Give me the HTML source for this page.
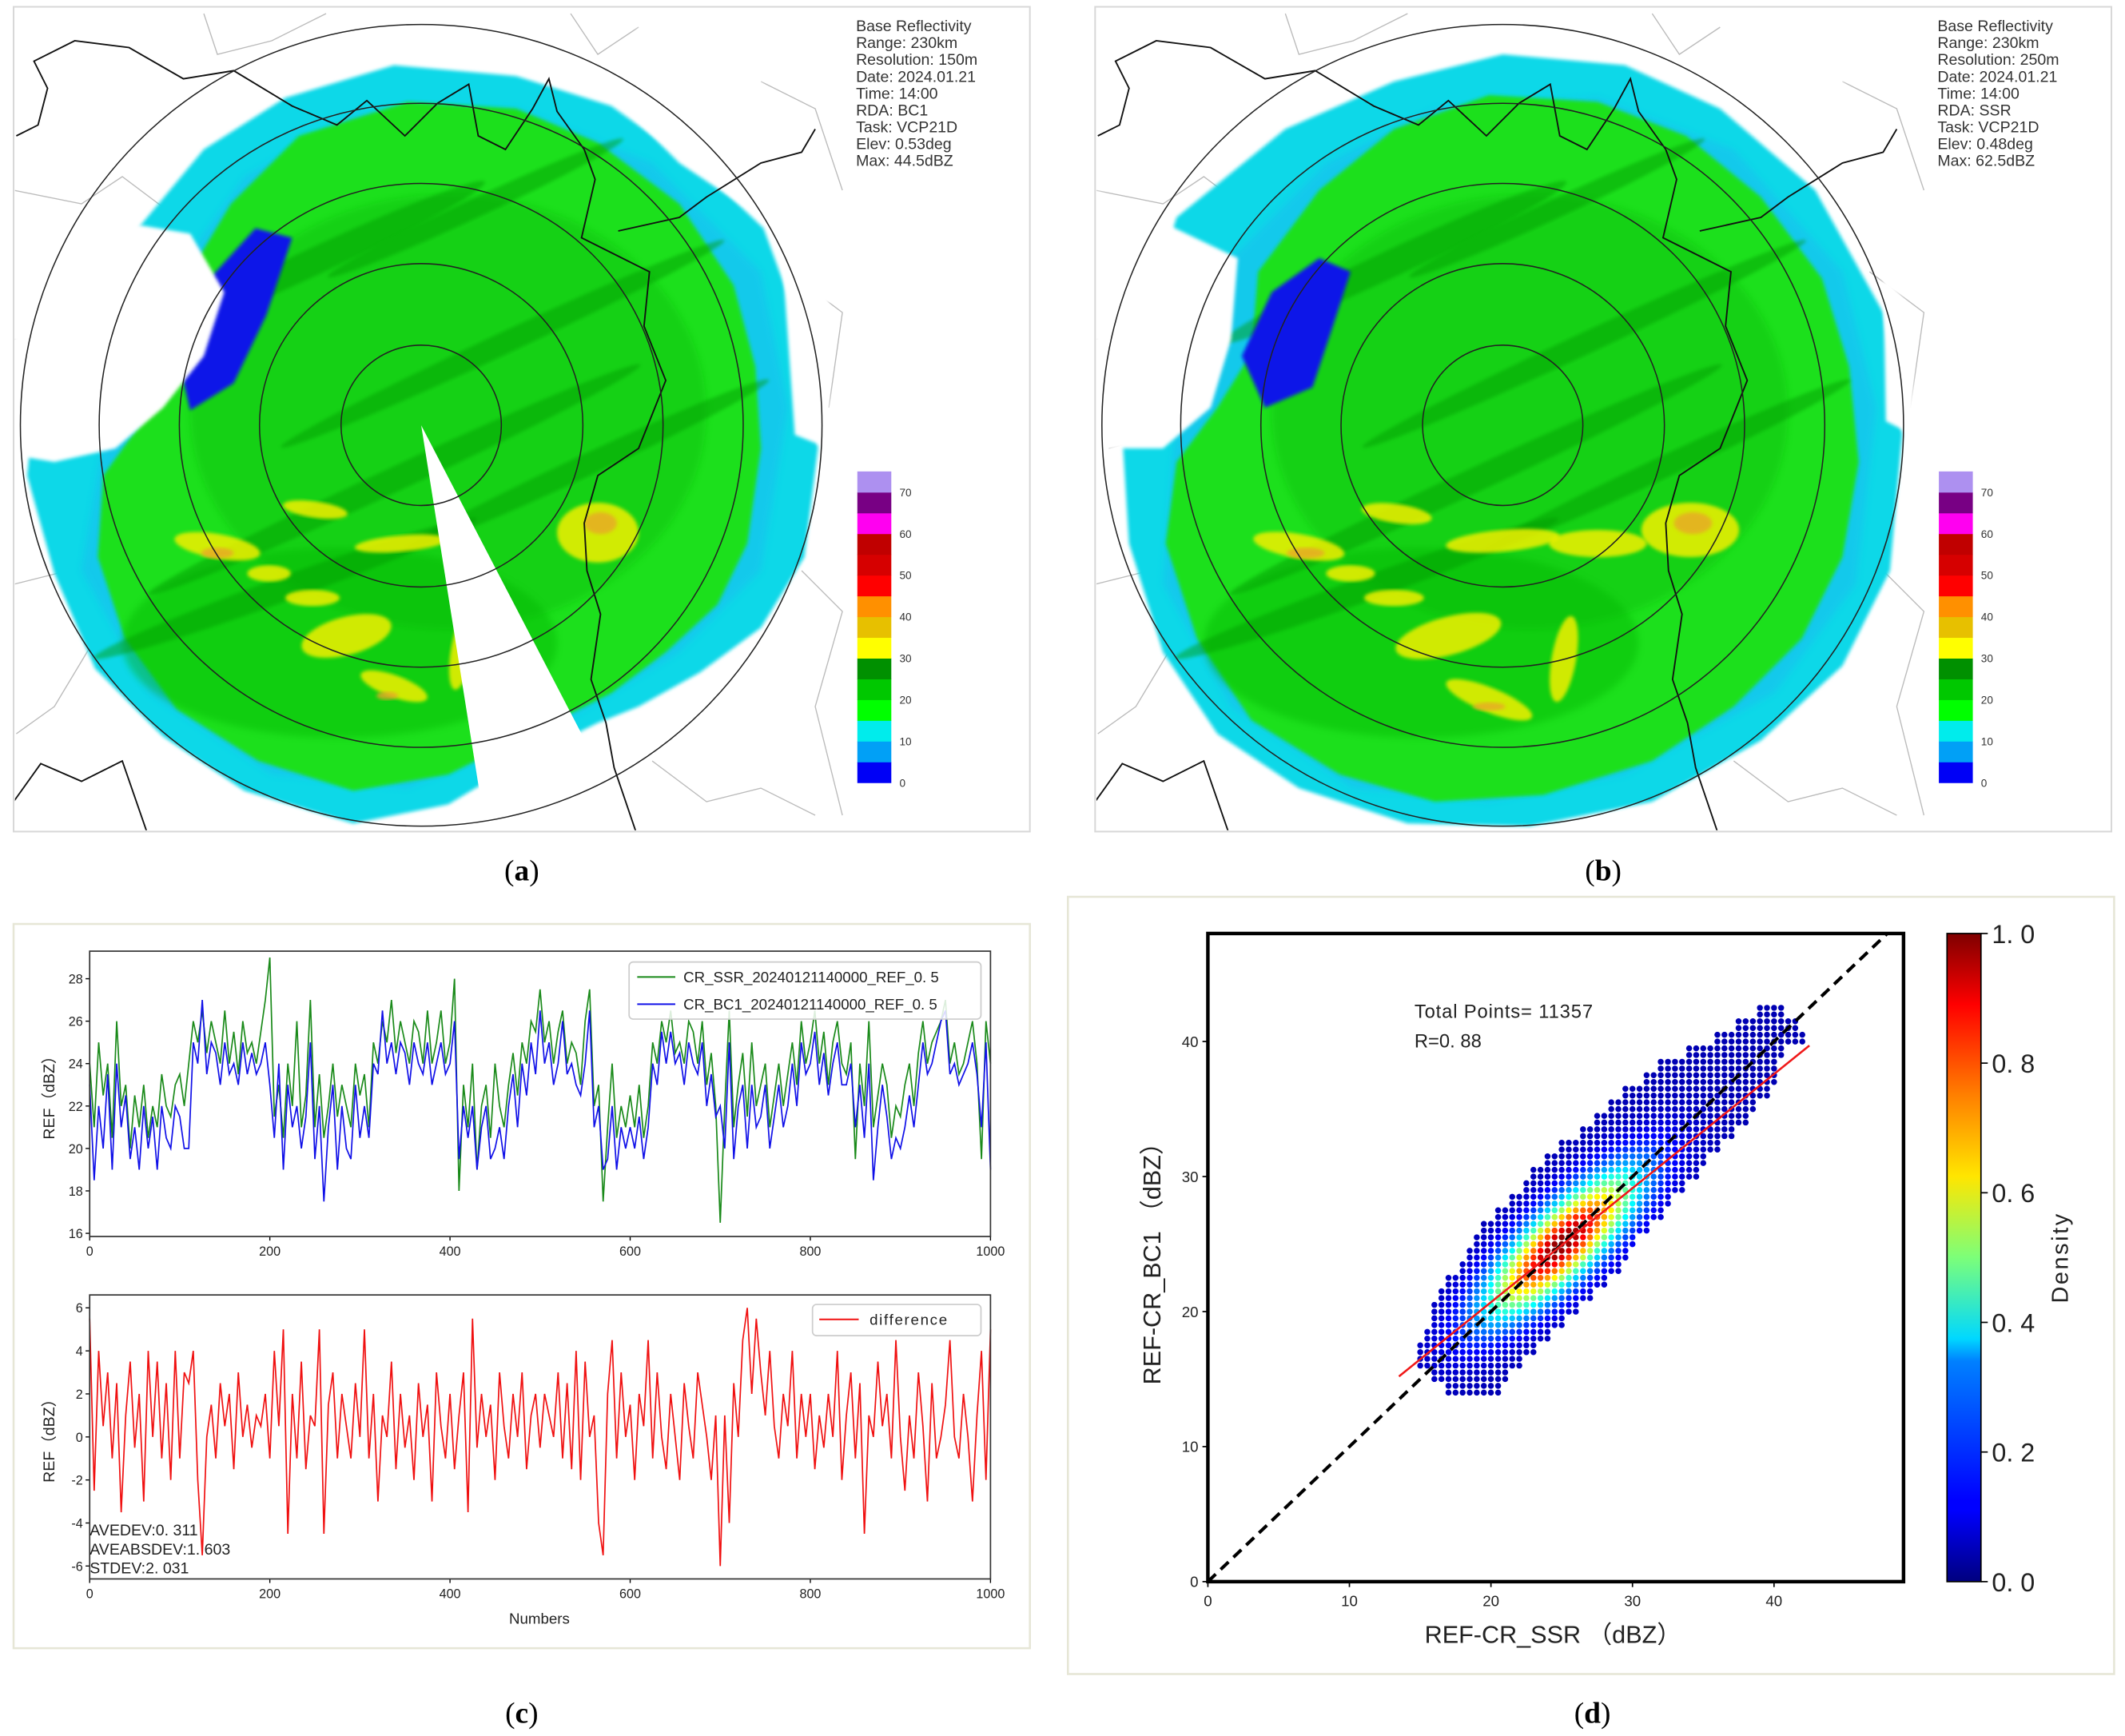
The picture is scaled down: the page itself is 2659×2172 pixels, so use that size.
<!DOCTYPE html>
<html><head><meta charset="utf-8">
<style>
html,body{margin:0;padding:0;background:#fff;}
svg{display:block;}
text{font-family:"Liberation Sans Narrow","Liberation Sans","Noto Sans CJK SC",sans-serif;}
.serif{font-family:"Liberation Serif",serif;}
</style></head>
<body>
<svg id="fig" width="2659" height="2172" viewBox="0 0 1564 1277.6" preserveAspectRatio="none" xmlns="http://www.w3.org/2000/svg">
<defs>
<filter id="soft" x="-10%" y="-10%" width="120%" height="120%"><feGaussianBlur stdDeviation="2.5"/></filter>
<filter id="soft2" x="-10%" y="-10%" width="120%" height="120%"><feGaussianBlur stdDeviation="1.2"/></filter>
<linearGradient id="jet" x1="0" y1="1" x2="0" y2="0">
<stop offset="0" stop-color="#00007f"/><stop offset="0.11" stop-color="#0000ff"/><stop offset="0.125" stop-color="#0000ff"/>
<stop offset="0.34" stop-color="#0080ff"/><stop offset="0.375" stop-color="#00d8ff"/><stop offset="0.5" stop-color="#7cff79"/>
<stop offset="0.625" stop-color="#ffe600"/><stop offset="0.75" stop-color="#ff8000"/><stop offset="0.89" stop-color="#ff0000"/>
<stop offset="1" stop-color="#7f0000"/></linearGradient>
</defs>
<g id="panelA"></g>
<g id="panelB"></g>
<text class="serif" x="384" y="648" font-size="22" text-anchor="middle">(<tspan font-weight="bold">a</tspan>)</text>
<text class="serif" x="1180" y="648" font-size="22" text-anchor="middle">(<tspan font-weight="bold">b</tspan>)</text>
<text class="serif" x="384" y="1268" font-size="22" text-anchor="middle">(<tspan font-weight="bold">c</tspan>)</text>
<text class="serif" x="1172" y="1268" font-size="22" text-anchor="middle">(<tspan font-weight="bold">d</tspan>)</text>
<g id="panelC"></g>
<g id="panelD"></g>
</svg>
<script>
// ===== Panel (c) data =====
const xTicksC = [0,200,400,600,800,1000];
const yTicksTop = [16,18,20,22,24,26,28];
const yTicksBot = [-6,-4,-2,0,2,4,6];
const sampleStep = 5;
const ssrSeries = [24,21,25,22.5,24,20.5,26,22,23,20,22.5,21,23,20.5,22,21,23.5,22,21.5,23,
23.5,22,24,26,25,26.5,24.5,26,25,24,26.5,24,25.5,23.5,26,24.5,25,24,25.5,27,
29,21.5,23,20.5,24,22,26,21,22.5,27,21,23.5,20.5,22,24,21.5,23,22,21,24,
22.5,23.5,21,25,24,26,25,27,24.5,26,25,24,26,25.5,24,26.5,24,25,26.5,24,
25,28,18,23,21,24,19,22,23,20.5,24,22,21,23,24.5,22.5,25,24,26,25.5,
27.5,25,26,24,25.5,26.5,24,25,24.5,23,26,27.5,22,23,17.5,21,24,20.5,22,21,
22.5,21,23,20.5,22,25,24,26,25,26.5,24.5,25,24,26,25.5,24,26,23,24.5,22,
16.5,22,26.5,21,23,24.5,21.5,25,22,23,24,21,22.5,24,22,23.5,25,23,26,24,
25,26.5,24,25.5,23,25,26,24,23.5,25,19.5,24,22,26,21,22.5,24,23,20.5,22,
21.5,23,24,22,24.5,26,24,25,25.5,26,27,24,25,23.5,24,25,26,24,19.5,26,24];
const bc1Series = [23,18.5,22,20,23.5,19,24,21,22.5,19.5,21,19,22,20,21.5,19,22,20.5,20,22,
21.5,20,20,25,24,27,23.5,25,24.5,23,25,23.5,24,23,25,23.5,24.5,23.5,24,25,
23,20.5,24,19,23,21,22,20,21.5,25,19.5,22,17.5,21,23,19,22,20,19.5,23,
20.5,22,20.5,24,23.5,26.5,24,25,23.5,25,24.5,23,25,24,23.5,25,23,24,25,23.5,
24,26,19.5,22,20.5,22,19,21,22,19.5,20,21,19.5,22,23.5,21,24,22.5,25,23.5,
26.5,24,25,23,24,26,23.5,24,23,22.5,24,26.5,21,22,19,19.5,22,19,21,20,
21,20,21.5,19.5,21,24,23,25.5,24,25.5,24,24.5,23,25,24,23.5,25,22,23.5,21.5,
22,20,25,19.5,22,23,20,23,21,21.5,23,20,21.5,23,21,22,24,22,25,23.5,
24,25.5,23,24.5,22.5,24,25,23,23,24,21,23,20.5,24,18.5,21,23,21.5,19.5,20.5,
20,21,22.5,21,23,25,23.5,24,25,26,26.5,23.5,24,23,23.5,24,25,23.5,21,25,19];
const diffSeries = [5.5,-2.5,4,0.5,3,-1,2.5,-3.5,1,3.5,-0.5,2,-3,4,0,3.5,-1,2.5,-2,4,
-1,3,2.5,4,-2,-5.5,0,1.5,-1,2.5,0.5,2,-1.5,3,0,1.5,-0.5,1,0.5,2,
-1,4,0.5,5,-4.5,2,-1,3.5,-1.5,1,0.5,5,-4.5,1.5,3,-1,2,0.5,-1,2.5,
0,5,-1,2,-3,1,0,3.5,-1.5,2,-0.5,1,-2,2.5,0,1.5,-3,3,0.5,-1,
2,-1.5,1,3,-3.5,5.5,-0.5,2,0,1.5,-2,3,0.5,-1,2,0,3,-1.5,1,2,
-0.5,2,1,0,3,-1,2.5,-1.5,4,-2,3.5,0,1,-4,-5.5,2,4.5,-1,3,0,
1.5,-2,2,0.5,4.5,-1,3,0,-1.5,2,0,-2,2.5,0.5,-1,3,1.5,0,-2,1,
-6,1,-4,2.5,0,4.5,6,2,5.5,3,1,4,0.5,-1,2,0.5,4,-1,2,0,
2,-1.5,1,-0.5,2,0,4,-2,1,3,-1,2.5,-4.5,1,0,3.5,0.5,2,-1,4.5,
0,-2.5,1,-1,3,0.5,-3,2.5,-1,0,1.5,4.5,0,-1,2,0,-3,1,4,-2,5];
const statsLabels = ["AVEDEV:0. 311","AVEABSDEV:1. 603","STDEV:2. 031"];

// ===== Panel (d) data =====
const xTicksD = [0,10,20,30,40];
const yTicksD = [0,10,20,30,40];
const cbTicks = [0.0,0.2,0.4,0.6,0.8,1.0];
const rowY =    [14,15,16,17,18,19,20,21,22,23,24,25,26,27,28,29,30,31,32,33,34,35,36,37,38,39,40,41,42];
const rowXMin = [17,16,15,15,15.5,16,16,16.5,17,18,18.5,19,19.5,20.5,21.5,22.5,23,24,25,26.5,27.5,28.5,29.5,31,32,34,36,37.5,39];
const rowXMax = [20.5,21,22,23,24,25,26,27,28,29,29.5,30,31,32,32.5,33.5,34.5,35,36,37,38,38.5,39.5,40,40,40.5,42,41.5,40.5];
const fitLine = [[13.5,15.2],[42.5,39.7]];
const totalPoints = 11357;
const rValue = "0.88";
const densityCenter = [25,25];

const NS = "http://www.w3.org/2000/svg";
function mk(tag, attrs, parent){const e=document.createElementNS(NS,tag);for(const k in attrs)e.setAttribute(k,attrs[k]);if(parent)parent.appendChild(e);return e;}
function lin(d0,d1,r0,r1){return v=>r0+(v-d0)/(d1-d0)*(r1-r0);}

// ===== Radar panels =====
function radar(g, dx, opt){
  mk('rect',{x:10+dx,y:5,width:748,height:607,fill:'#fff',stroke:'#d8d8d8','stroke-width':1.2},g);
  const cx=310+dx, cy=313;
  const clipId='clip'+dx;
  const cp=mk('clipPath',{id:clipId},g); mk('rect',{x:11+dx,y:6,width:746,height:605},cp);
  const m=mk('g',{'clip-path':`url(#${clipId})`},g);
  
  
  const gray=[[[10,140],[60,150],[90,130],[130,160]],[[10,250],[50,240],[80,270],[60,320],[20,330]],[[10,430],[50,420],[70,470],[40,520],[12,540]],
   [[560,60],[600,80],[620,140]],[[580,200],[620,230],[610,300]],[[590,420],[620,450],[600,520],[620,600]],[[480,560],[520,590],[560,580],[600,600]],
   [[150,10],[160,40],[200,30],[240,10]],[[420,10],[440,40],[470,20]]];
  gray.forEach(p=>mk('polyline',{points:p.map(q=>(q[0]+dx)+','+q[1]).join(' '),fill:'none',stroke:'#bbb','stroke-width':0.8},m));
  const P=a=>a.map(q=>(q[0]+dx)+','+q[1]).join(' ');
  mk('polygon',{points:P(opt.outer),fill:'#10d8e8',filter:'url(#soft2)'},m);
  mk('polygon',{points:P(opt.mid),fill:'#1ab8f0',opacity:0.45,filter:'url(#soft)'},m);
  mk('polygon',{points:P(opt.green),fill:'#1ee01e',filter:'url(#soft2)'},m);
  mk('ellipse',{cx:cx+20,cy:cy-10,rx:190,ry:160,fill:'#08c008',opacity:0.45,filter:'url(#soft)'},m);
  mk('ellipse',{cx:cx-60,cy:cy+160,rx:160,ry:70,fill:'#00b400',opacity:0.4,filter:'url(#soft)'},m);
  [[cx-80,cy-120,140,10,-25],[cx+60,cy-60,180,8,-25],[cx-20,cy+40,200,9,-25],[cx+120,cy+30,150,8,-25],[cx-100,cy+120,150,9,-20],[cx+40,cy-160,120,7,-25]].forEach(s=>
    mk('ellipse',{cx:s[0],cy:s[1],rx:s[2],ry:s[3],fill:'#009a00',opacity:0.45,transform:`rotate(${s[4]} ${s[0]} ${s[1]})`,filter:'url(#soft2)'},m));
  mk('polygon',{points:P(opt.blue),fill:'#0818e8',filter:'url(#soft2)'},m);
  opt.white.forEach(w=>mk('polygon',{points:P(w),fill:'#fff',filter:'url(#soft2)'},m));
  opt.yellow.forEach(y=>mk('ellipse',{cx:y[0]+dx,cy:y[1],rx:y[2],ry:y[3],fill:'#f2f000',opacity:0.85,transform:`rotate(${y[4]||0} ${y[0]+dx} ${y[1]})`,filter:'url(#soft2)'},m));
  opt.orange.forEach(y=>mk('ellipse',{cx:y[0]+dx,cy:y[1],rx:y[2],ry:y[3],fill:'#e8a828',opacity:0.8,filter:'url(#soft2)'},m));
  if(opt.wedge) mk('polygon',{points:P([[310,313],[362,640],[480,640]]),fill:'#fff'},m);
  const borders=[[[12,100],[28,92],[35,65],[25,45],[55,30],[95,35],[135,58],[172,52],[215,78],[248,92],[270,74],[298,100],[322,76],[345,62],[352,100],[372,110],[392,80],[404,58],[410,82],[430,110],[438,132],[428,175],[478,200],[474,240],[490,280],[470,330],[440,350],[430,385],[432,420],[442,452],[435,500],[446,532],[452,565],[468,612]],
    [[455,170],[500,160],[520,145],[560,120],[590,112],[600,95]],[[10,590],[30,562],[60,575],[90,560],[108,612]]];
  borders.forEach(p=>mk('polyline',{points:P(p),fill:'none',stroke:'#111','stroke-width':1.1},m));
  [59,119,178,237,295].forEach(r=>mk('circle',{cx:cx,cy:cy,r:r,fill:'none',stroke:'#222','stroke-width':0.9},m));
  const t=mk('text',{x:630+dx,y:23,'font-size':11.5,fill:'#333'},g);
  
  
  opt.info.forEach((s,i)=>{const ts=mk('tspan',{x:630+dx,y:23+i*12.4},t);ts.textContent=s;});
  const cols=['#0000f6','#01a0f6','#00ecec','#00ff00','#00c800','#009000','#ffff00','#e7c000','#ff9000','#ff0000','#d60000','#c00000','#ff00f0','#780084','#ad90f0'];
  const cb=mk('g',{},g);
  
  
  const by=576, bh=15.27;
  cols.forEach((c,i)=>mk('rect',{x:631+dx,y:by-(i+1)*bh,width:25,height:bh+0.3,fill:c},cb));
  [0,10,20,30,40,50,60,70].forEach((v,i)=>{const tx=mk('text',{x:662+dx,y:by-i*2*bh+3,'font-size':8,fill:'#333'},cb);tx.textContent=v;});
}
const shapeA={
 outer:[[100,170],[150,110],[210,72],[290,48],[380,56],[450,78],[520,128],[562,168],[592,250],[602,330],[592,410],[560,462],[515,495],[470,520],[440,532],[380,562],[330,592],[260,606],[180,582],[120,542],[70,492],[40,422],[20,350],[30,250],[60,220]],
 mid:[[130,200],[180,130],[260,85],[380,80],[480,120],[560,200],[580,300],[560,420],[500,480],[400,540],[300,580],[200,570],[110,510],[60,420],[80,300]],
 green:[[140,200],[170,150],[220,100],[300,75],[380,80],[440,105],[500,150],[540,210],[556,270],[560,330],[550,400],[528,445],[490,480],[450,510],[380,545],[330,570],[260,582],[190,560],[130,522],[92,470],[72,410],[76,350],[112,300],[140,262]],
 blue:[[148,212],[188,168],[215,175],[196,232],[172,282],[140,302],[130,260]],
 white:[[[10,150],[140,172],[165,215],[150,262],[120,300],[85,330],[40,340],[10,335]],[[470,20],[560,60],[600,140],[560,160],[500,120],[450,70]],[[575,180],[610,210],[610,330],[585,320]]],
 yellow:[[440,392,30,22],[160,402,32,9,10],[232,375,24,6,8],[255,468,34,14,-15],[198,422,16,6],[295,400,34,6,-5],[290,505,26,8,20],[340,478,8,30,10],[230,440,20,6]],
 orange:[[160,407,12,4],[442,385,12,8],[285,512,8,3]],
 wedge:true,
 info:['Base Reflectivity','Range: 230km','Resolution: 150m','Date: 2024.01.21','Time: 14:00','RDA: BC1','Task: VCP21D','Elev: 0.53deg','Max: 44.5dBZ']};
const shapeB={
 outer:[[70,160],[150,95],[230,60],[310,40],[400,48],[470,80],[540,140],[590,230],[604,320],[595,420],[560,490],[500,545],[420,590],[330,608],[240,606],[160,580],[100,540],[60,480],[35,400],[30,320],[45,240]],
 mid:[[110,190],[180,120],[260,80],[380,72],[480,110],[560,200],[585,300],[570,430],[510,510],[400,570],[300,590],[200,580],[110,520],[60,430],[70,300]],
 green:[[130,200],[175,140],[230,95],[300,70],[380,75],[445,100],[500,145],[545,205],[565,270],[572,340],[560,410],[530,470],[480,520],[420,560],[340,585],[260,590],[190,570],[125,530],[85,470],[62,400],[70,340],[100,300],[125,260]],
 blue:[[140,215],[175,190],[198,200],[185,240],[170,285],[135,300],[118,262]],
 white:[[[10,140],[115,190],[110,250],[95,300],[60,330],[10,330]],[[500,20],[560,60],[600,120],[565,135],[520,110]],[[590,200],[612,230],[612,320],[592,310]]],
 yellow:[[448,390,36,20],[160,402,34,9,10],[232,378,26,7,8],[270,468,40,14,-15],[198,422,18,6],[310,398,42,8,-5],[300,515,34,9,22],[355,485,9,32,10],[380,400,36,10],[230,440,22,6]],
 orange:[[165,407,14,4],[450,385,14,8],[300,520,12,3]],
 wedge:false,
 info:['Base Reflectivity','Range: 230km','Resolution: 250m','Date: 2024.01.21','Time: 14:00','RDA: SSR','Task: VCP21D','Elev: 0.48deg','Max: 62.5dBZ']};
radar(document.getElementById('panelA'),0,shapeA);
radar(document.getElementById('panelB'),796,shapeB);

// ===== Panel (c) =====
(function(){
 const g=document.getElementById('panelC');
 mk('rect',{x:10,y:680,width:748,height:533,fill:'#fff',stroke:'#e6e6d6','stroke-width':1.5},g);
 const xs=lin(0,1000,66,729);
 function axes(top,bottom,ymin,ymax,yt,label){
   const ys=lin(ymin,ymax,bottom,top);
   const ax=mk('g',{},g);
   
   
   xTicksC.forEach(v=>{mk('line',{x1:xs(v),x2:xs(v),y1:bottom,y2:bottom+3,stroke:'#000','stroke-width':0.8},ax);
     const t=mk('text',{x:xs(v),y:bottom+14,'font-size':9.5,'text-anchor':'middle',fill:'#222'},ax);t.textContent=v;});
   yt.forEach(v=>{mk('line',{x1:63,x2:66,y1:ys(v),y2:ys(v),stroke:'#000','stroke-width':0.8},ax);
     const t=mk('text',{x:61,y:ys(v)+3.5,'font-size':9.5,'text-anchor':'end',fill:'#222'},ax);t.textContent=v;});
   const yl=mk('text',{x:0,y:0,'font-size':11.5,'text-anchor':'middle',fill:'#222',transform:`translate(40 ${(top+bottom)/2}) rotate(-90)`},ax);
   yl.textContent=label;
   
   
   return ys;
 }
 const ysT=axes(700,910,15.85,29.3,yTicksTop,'REF（dBZ）');
 const ysB=axes(953,1162,-6.6,6.6,yTicksBot,'REF（dBZ）');
 function line(arr,ys,col,name){
   const p=mk('polyline',{points:arr.map((v,i)=>xs(i*sampleStep).toFixed(2)+','+ys(v).toFixed(2)).join(' '),fill:'none',stroke:col,'stroke-width':1,'stroke-linejoin':'miter'},g);
   
   
 }
 line(ssrSeries,ysT,'#1a8a1a','ssr-line');
 line(bc1Series,ysT,'#1010e8','bc1-line');
 line(diffSeries,ysB,'#f01010','difference-line');
 mk('rect',{x:66,y:700,width:663,height:210,fill:'none',stroke:'#333','stroke-width':1},g);
 mk('rect',{x:66,y:953,width:663,height:209,fill:'none',stroke:'#333','stroke-width':1},g);
 const lg=mk('g',{},g);
 
 
 mk('rect',{x:463,y:708,width:259,height:42,rx:3,fill:'#fff','fill-opacity':0.85,stroke:'#ccc'},lg);
 [['#1a8a1a','CR_SSR_20240121140000_REF_0. 5',719],['#1010e8','CR_BC1_20240121140000_REF_0. 5',739]].forEach(e=>{
   mk('line',{x1:469,x2:497,y1:e[2],y2:e[2],stroke:e[0],'stroke-width':1.2},lg);
   const t=mk('text',{x:503,y:e[2]+4,'font-size':11,fill:'#222'},lg);t.textContent=e[1];});
 const lb=mk('g',{},g);
 
 
 mk('rect',{x:598,y:960,width:124,height:23,rx:3,fill:'#fff','fill-opacity':0.85,stroke:'#ccc'},lb);
 mk('line',{x1:603,x2:632,y1:971,y2:971,stroke:'#f01010','stroke-width':1.2},lb);
 const dt=mk('text',{x:640,y:975,'font-size':11,fill:'#222','letter-spacing':1},lb);dt.textContent='difference';
 statsLabels.forEach((s,i)=>{const t=mk('text',{x:66,y:1130+i*14,'font-size':11.5,fill:'#222'},g);t.textContent=s;
   
   });
 const xl=mk('text',{x:397,y:1195,'font-size':11,'text-anchor':'middle',fill:'#222'},g);xl.textContent='Numbers';
 
 
})();

// ===== Panel (d) =====
(function(){
 const g=document.getElementById('panelD');
 mk('rect',{x:786,y:660,width:770,height:572,fill:'#fff',stroke:'#e6e6d6','stroke-width':1.5},g);
 const L=889,R=1401,T=687,B=1164;
 const xs=lin(0,49.15,L,R), ys=lin(0,48,B,T);
 function jet(v){v=Math.max(0,Math.min(1,v));
   const r=Math.max(0,Math.min(1,1.5-Math.abs(4*v-3))), gg=Math.max(0,Math.min(1,1.5-Math.abs(4*v-2))), b=Math.max(0,Math.min(1,1.5-Math.abs(4*v-1)));
   return `rgb(${Math.round(r*255)},${Math.round(gg*255)},${Math.round(b*255)})`;}
 const pts=[];
 rowY.forEach((y,i)=>{[y,y+0.5].forEach(yy=>{
   for(let x=rowXMin[i];x<=rowXMax[i]+1e-6;x+=0.5){
     const u=((x+yy)/2-(densityCenter[0]+densityCenter[1])/2), w=(yy-x)/1.414;
     const d=Math.exp(-(u*u/(2*3.4*3.4)+w*w/(2*1.6*1.6)));
     pts.push([x,yy,d]);}});});
 pts.sort((a,b)=>a[2]-b[2]);
 const sg=mk('g',{},g);
 
 
 pts.forEach(p=>{mk('circle',{cx:xs(p[0]).toFixed(1),cy:ys(p[1]).toFixed(1),r:2.2,fill:jet(0.05+p[2]*0.95)},sg);});
 const dl=mk('line',{x1:xs(0),y1:ys(0),x2:xs(48),y2:ys(48),stroke:'#000','stroke-width':2.4,'stroke-dasharray':'8,5'},g);
 
 
 const fl=mk('line',{x1:xs(fitLine[0][0]),y1:ys(fitLine[0][1]),x2:xs(fitLine[1][0]),y2:ys(fitLine[1][1]),stroke:'#f01818','stroke-width':1.5},g);
 
 
 mk('rect',{x:L,y:T,width:R-L,height:B-T,fill:'none',stroke:'#000','stroke-width':2.6},g);
 xTicksD.forEach(v=>{mk('line',{x1:xs(v),x2:xs(v),y1:B,y2:B+4,stroke:'#000'},g);
   const t=mk('text',{x:xs(v),y:B+18,'font-size':11,'text-anchor':'middle',fill:'#222'},g);t.textContent=v;});
 yTicksD.forEach(v=>{mk('line',{x1:L-4,x2:L,y1:ys(v),y2:ys(v),stroke:'#000'},g);
   const t=mk('text',{x:L-7,y:ys(v)+4,'font-size':11,'text-anchor':'end',fill:'#222'},g);t.textContent=v;});
 const xl=mk('text',{x:1143,y:1209,'font-size':18,'text-anchor':'middle',fill:'#222'},g);xl.textContent='REF-CR_SSR （dBZ）';
 
 
 const yl=mk('text',{x:0,y:0,'font-size':18,'text-anchor':'middle',fill:'#222',transform:`translate(854 ${(T+B)/2}) rotate(-90)`},g);yl.textContent='REF-CR_BC1 （dBZ）';
 
 
 const t1=mk('text',{x:1041,y:749,'font-size':14,fill:'#222','letter-spacing':0.5},g);t1.textContent='Total Points= '+totalPoints;
 
 
 const t2=mk('text',{x:1041,y:771,'font-size':14,fill:'#222'},g);t2.textContent='R='+rValue.replace('.','. ');
 
 
 const cb=mk('g',{},g);
 
 
 mk('rect',{x:1433,y:T,width:25,height:B-T,fill:'url(#jet)',stroke:'#000','stroke-width':1},cb);
 const cs=lin(0,1,B,T);
 cbTicks.forEach(v=>{mk('line',{x1:1458,x2:1463,y1:cs(v),y2:cs(v),stroke:'#000'},cb);
   const t=mk('text',{x:1466,y:cs(v)+7,'font-size':19,fill:'#222'},cb);t.textContent=v.toFixed(1).replace('.','. ');});
 const dn=mk('text',{x:0,y:0,'font-size':17,'text-anchor':'middle',fill:'#222','letter-spacing':1.5,transform:`translate(1522 ${(T+B)/2}) rotate(-90)`},cb);dn.textContent='Density';
})();
</script>
</body></html>
